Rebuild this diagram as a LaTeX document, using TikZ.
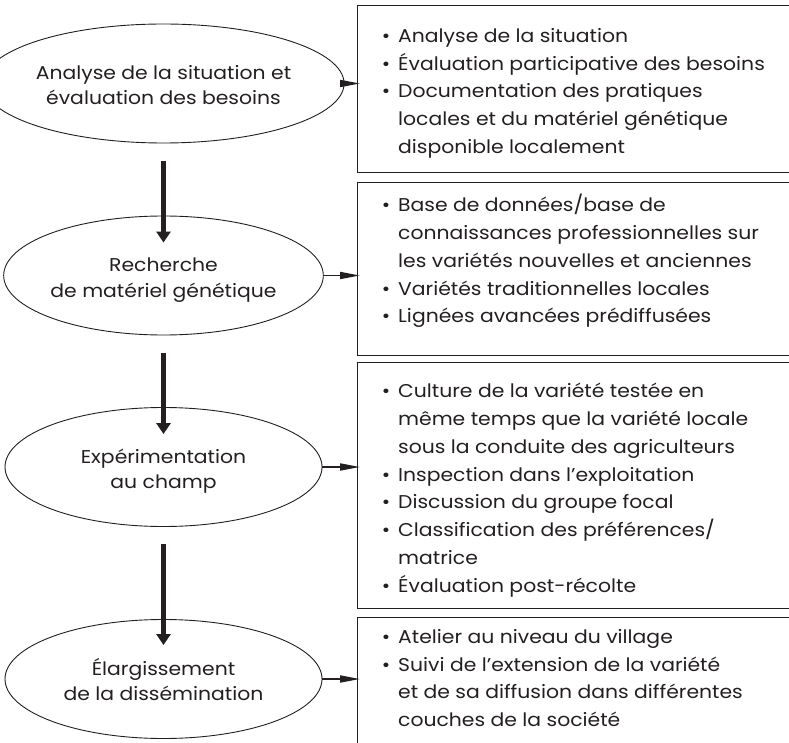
\documentclass[tikz,border=0pt]{standalone}
\usepackage{fontspec}
\setmainfont{Poppins}[FakeStretch=1.1]
\usetikzlibrary{arrows.meta,shapes.geometric}
\definecolor{ink}{RGB}{35,31,32}
\newcommand{\stg}[1]{\raisebox{-4pt}[\height][\depth]{\begin{tabular}{@{}c@{}}#1\end{tabular}}}
\begin{document}
\begin{tikzpicture}[x=1pt,y=-1pt,
  stage/.style={draw=ink,line width=0.9pt,ellipse,minimum width=317pt,minimum height=119pt,inner sep=0pt,
    text=ink,font=\fontsize{18.5}{25}\selectfont},
  panel/.style={draw=ink,line width=1.2pt,rectangle,anchor=north west,inner sep=0pt},
  items/.style={anchor=north west,inner sep=0pt,align=left,text=ink,font=\fontsize{18.5}{27.8}\selectfont},
  flow/.style={ink,line width=5pt,-{Triangle[length=11pt,width=14pt]}},
  link/.style={ink,line width=1.8pt,-{Triangle[length=20pt,width=7pt]},shorten >=-3pt}
]
\useasboundingbox (0,0) rectangle (789,743);
\newcommand{\bul}{\llap{\textbullet\hspace{8pt}}}
% stages
\node[stage] (e1) at (163.5,83.5) {\stg{Analyse de la situation et\\évaluation des besoins}};
\node[stage] (e2) at (163.5,275.5) {\stg{Recherche\\de matériel génétique}};
\node[stage] (e3) at (163.5,467) {\stg{Expérimentation\\au champ}};
\node[stage] (e4) at (163.5,679) {\stg{Élargissement\\de la dissémination}};
% panels
\node[panel,minimum width=450pt,minimum height=167pt] (b1) at (357,5) {};
\node[panel,minimum width=450pt,minimum height=173pt] (b2) at (357,182) {};
\node[panel,minimum width=450pt,minimum height=246pt] (b3) at (357,362) {};
\node[panel,minimum width=450pt,minimum height=150pt] (b4) at (357,617) {};
% texts
\node[items] (t1) at (398,28) {\bul Analyse de la situation\\\bul Évaluation participative des besoins\\\bul Documentation des pratiques\\locales et du matériel génétique\\disponible localement};
\node[items] (t2) at (398,194) {\bul Base de données/base de\\connaissances professionnelles sur\\les variétés nouvelles et anciennes\\\bul Variétés traditionnelles locales\\\bul Lignées avancées prédiffusées};
\node[items] (t3) at (398,383) {\bul Culture de la variété testée en\\même temps que la variété locale\\sous la conduite des agriculteurs\\\bul Inspection dans l’exploitation\\\bul Discussion du groupe focal\\\bul Classification des préférences/\\matrice\\\bul Évaluation post-récolte};
\node[items] (t4) at (398,629) {\bul Atelier au niveau du village\\\bul Suivi de l’extension de la variété\\et de sa diffusion dans différentes\\couches de la société};
% connectors
\draw[flow] ([yshift=-18pt]e1.south) -- ([yshift=-27pt]e2.north);
\draw[flow] ([yshift=-18pt]e2.south) -- ([yshift=-27pt]e3.north);
\draw[flow] ([yshift=-17pt]e3.south) -- ([yshift=-26pt]e4.north);
\draw[link] (e1.east) -- (e1.east -| b1.west);
\draw[link] (e2.east) -- (e2.east -| b2.west);
\draw[link] (e3.east) -- (e3.east -| b3.west);
\draw[link] (e4.east) -- (e4.east -| b4.west);
\end{tikzpicture}
\end{document}
